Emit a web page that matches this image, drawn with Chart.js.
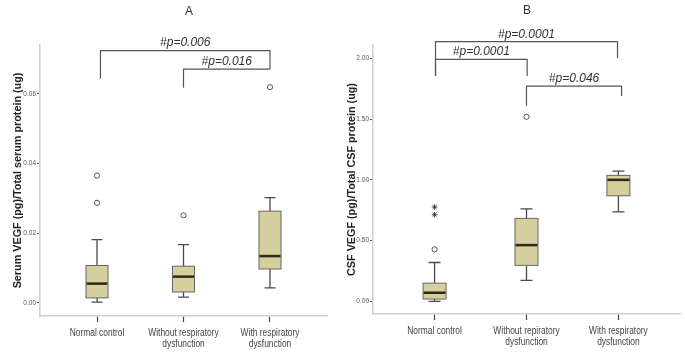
<!DOCTYPE html>
<html><head><meta charset="utf-8">
<script src="https://cdn.jsdelivr.net/npm/chart.js@4.4.0/dist/chart.umd.min.js"></script>
<style>
html,body{margin:0;padding:0;background:#fff;}
#wrap{position:relative;width:685px;height:358px;overflow:hidden;background:#fff;}
canvas{position:absolute;top:0;}
#cA{left:0;} #cB{left:340px;}
</style></head><body>
<div id="wrap"><canvas id="cA" width="340" height="358"></canvas><canvas id="cB" width="345" height="358"></canvas></div>
<script>
// ---------- data ----------
const categoriesA = ['Normal control', ['Without respiratory', 'dysfunction'], ['With respiratory', 'dysfunction']];
const categoriesB = ['Normal control', ['Without repiratory', 'dysfunction'], ['With respiratory', 'dysfunction']];

const yTicksA = [0.00, 0.02, 0.04, 0.06];
const yTicksB = [0.00, 0.50, 1.00, 1.50, 2.00];

// Panel A: serum VEGF / total serum protein
const serumMin      = [0.0002, 0.0016, 0.0043];
const serumQ1       = [0.0014, 0.0031, 0.0097];
const serumMedian   = [0.0055, 0.0075, 0.0134];
const serumQ3       = [0.0107, 0.0105, 0.0263];
const serumMax      = [0.0181, 0.0167, 0.0302];
const serumOutliers = [[0.0287, 0.0365], [0.0251], [0.0619]];

// Panel B: CSF VEGF / total CSF protein
const csfMin      = [0.000, 0.173, 0.737];
const csfQ1       = [0.019, 0.296, 0.869];
const csfMedian   = [0.071, 0.463, 1.000];
const csfQ3       = [0.150, 0.683, 1.037];
const csfMax      = [0.320, 0.762, 1.072];
const csfOutliers = [[0.428], [1.519], []];
const csfExtremes = [[0.713, 0.776], [], []];

// significance brackets (x in category units, y in data units)
const bracketsA = [
  {x1: 1.04, x2: 3, y: 0.0724, leg1: 0.0643, leg2: 0.0671, label: '#p=0.006'},
  {x1: 2, x2: 3, y: 0.0671, leg1: 0.0617, leg2: 0.0671, label: '#p=0.016'}
];
const bracketsB = [
  {x1: 1.01, x2: 2.99, y: 2.137, leg1: 1.854, leg2: 2.0, label: '#p=0.0001'},
  {x1: 1.01, x2: 2.007, y: 1.992, leg1: 1.854, leg2: 1.854, label: '#p=0.0001'},
  {x1: 2.0, x2: 3.035, y: 1.772, leg1: 1.61, leg2: 1.69, label: '#p=0.046'}
];

// ---------- styling ----------
const SANS = "'Liberation Sans',Arial,sans-serif";

function toPoints(groups) {
  const pts = [];
  groups.forEach((arr, i) => arr.forEach(v => pts.push({x: i + 1, y: v})));
  return pts;
}

const boxPlugin = {
  id: 'boxes',
  beforeDatasetsDraw(chart, args, o) {
    const {ctx} = chart, x = chart.scales.x, y = chart.scales.y;
    const b = o.box;
    if (!b) return;
    ctx.save();
    for (let i = 0; i < b.median.length; i++) {
      const cx = x.getPixelForValue(i + 1);
      const pMin = y.getPixelForValue(b.min[i]);
      const pQ1 = y.getPixelForValue(b.q1[i]);
      const pMed = y.getPixelForValue(b.median[i]);
      const pQ3 = y.getPixelForValue(b.q3[i]);
      const pMax = y.getPixelForValue(b.max[i]);
      const w = o.width, cap = o.cap;
      ctx.strokeStyle = '#4a4a4a'; ctx.lineWidth = 1.3;
      ctx.beginPath();
      ctx.moveTo(cx, pQ1); ctx.lineTo(cx, pMin);
      ctx.moveTo(cx, pQ3); ctx.lineTo(cx, pMax);
      ctx.moveTo(cx - cap / 2, pMin); ctx.lineTo(cx + cap / 2, pMin);
      ctx.moveTo(cx - cap / 2, pMax); ctx.lineTo(cx + cap / 2, pMax);
      ctx.stroke();
      ctx.fillStyle = '#d5cf9d';
      ctx.fillRect(cx - w / 2, pQ3, w, pQ1 - pQ3);
      ctx.strokeStyle = '#666'; ctx.lineWidth = 1;
      ctx.strokeRect(cx - w / 2, pQ3, w, pQ1 - pQ3);
      ctx.strokeStyle = '#2b2a1c'; ctx.lineWidth = 2.5;
      ctx.beginPath();
      ctx.moveTo(cx - w / 2 + 0.5, pMed); ctx.lineTo(cx + w / 2 - 0.5, pMed);
      ctx.stroke();
    }
    ctx.restore();
  },
  afterDraw(chart, args, o) {
    const {ctx} = chart, x = chart.scales.x, y = chart.scales.y;
    ctx.save();
    // condensed category labels under the x axis
    ctx.fillStyle = '#444';
    ctx.font = '10.5px ' + SANS;
    ctx.textAlign = 'center'; ctx.textBaseline = 'middle';
    (o.categories || []).forEach((c, i) => {
      const lines = Array.isArray(c) ? c : [c];
      const cx = x.getPixelForValue(i + 1);
      lines.forEach((ln, k) => {
        ctx.save();
        ctx.translate(cx, x.top + o.labelOffset + k * 11);
        ctx.scale(0.8, 1);
        ctx.fillText(ln, 0, 0);
        ctx.restore();
      });
    });
    // significance brackets
    ctx.strokeStyle = '#555'; ctx.lineWidth = 1.2;
    (o.brackets || []).forEach(br => {
      const X1 = x.getPixelForValue(br.x1), X2 = x.getPixelForValue(br.x2);
      const Y = y.getPixelForValue(br.y);
      ctx.beginPath();
      ctx.moveTo(X1, y.getPixelForValue(br.leg1)); ctx.lineTo(X1, Y);
      ctx.lineTo(X2, Y); ctx.lineTo(X2, y.getPixelForValue(br.leg2));
      ctx.stroke();
      ctx.fillStyle = '#333';
      ctx.font = 'italic 12px ' + SANS;
      ctx.textAlign = 'center'; ctx.textBaseline = 'middle';
      ctx.fillText(br.label, (X1 + X2) / 2, Y - 7.5);
    });
    if (o.title) {
      ctx.fillStyle = '#333';
      ctx.font = '12px ' + SANS;
      ctx.textAlign = 'center'; ctx.textBaseline = 'middle';
      ctx.fillText(o.title, o.titleX, o.titleY);
    }
    ctx.restore();
  }
};

function makeChart(id, cfg) {
  return new Chart(document.getElementById(id), {
    type: 'scatter',
    data: {datasets: cfg.datasets},
    plugins: [boxPlugin],
    options: {
      responsive: false, animation: false,
      layout: {padding: cfg.padding},
      plugins: {
        legend: {display: false}, tooltip: {enabled: false}, title: {display: false},
        boxes: Object.assign({categories: cfg.categories, labelOffset: 17}, cfg.boxes)
      },
      scales: {
        x: {
          type: 'linear', min: cfg.xMin, max: cfg.xMax, bounds: 'data',
          afterFit(s) { s.height = cfg.xHeight; },
          afterBuildTicks(s) { s.ticks = cfg.categories.map((c, i) => ({value: i + 1})); },
          ticks: {display: false},
          grid: {drawOnChartArea: false, drawTicks: true, tickLength: 6, tickColor: '#444', tickWidth: 1.2},
          border: {color: '#d0d0d0', width: 1.5}
        },
        y: {
          type: 'linear', min: cfg.yMin, max: cfg.yMax, bounds: 'data',
          afterFit(s) { s.width = cfg.yWidth; },
          afterBuildTicks(s) { s.ticks = cfg.yTicks.map(v => ({value: v})); },
          ticks: {
            padding: 1, callback: (v) => Number(v).toFixed(2),
            font: {family: SANS, size: 6.5}, color: '#555'
          },
          grid: {drawOnChartArea: false, drawTicks: true, tickLength: 3, tickColor: '#555', tickWidth: 1},
          border: {color: '#d0d0d0', width: 1.5},
          title: {
            display: true, text: cfg.yTitle, color: '#222',
            font: {family: SANS, size: 10.8, weight: 'bold'},
            padding: {top: cfg.titlePad, bottom: 0}
          }
        }
      }
    }
  });
}

const circleStyle = {pointStyle: 'circle', radius: 2.6, borderWidth: 1, borderColor: '#555', backgroundColor: '#fff'};

makeChart('cA', {
  categories: categoriesA, yTicks: yTicksA,
  xMin: 0.341, xMax: 3.659, yMin: -0.0038, yMax: 0.074,
  xHeight: 42, yWidth: 40, titlePad: 12,
  padding: {left: 0, right: 13, top: 45, bottom: 0},
  yTitle: 'Serum VEGF (pg)/Total serum protein (ug)',
  datasets: [Object.assign({label: 'outliers', data: toPoints(serumOutliers)}, circleStyle)],
  boxes: {
    box: {min: serumMin, q1: serumQ1, median: serumMedian, q3: serumQ3, max: serumMax},
    width: 22, cap: 11, brackets: bracketsA, title: 'A', titleX: 189, titleY: 12
  }
});

makeChart('cB', {
  categories: categoriesB, yTicks: yTicksB,
  xMin: 0.33, xMax: 3.67, yMin: -0.104, yMax: 2.11,
  xHeight: 44, yWidth: 33, titlePad: 5.5,
  padding: {left: 0, right: 0, top: 45, bottom: 0},
  yTitle: 'CSF VEGF (pg)/Total CSF protein (ug)',
  datasets: [
    Object.assign({label: 'outliers', data: toPoints(csfOutliers)}, circleStyle),
    {label: 'extremes', data: toPoints(csfExtremes), pointStyle: 'star', radius: 2.8, borderWidth: 0.9, borderColor: '#333', backgroundColor: '#333'}
  ],
  boxes: {
    box: {min: csfMin, q1: csfQ1, median: csfMedian, q3: csfQ3, max: csfMax},
    width: 23, cap: 12, brackets: bracketsB, title: 'B', titleX: 187, titleY: 11
  }
});
</script>
</body></html>
